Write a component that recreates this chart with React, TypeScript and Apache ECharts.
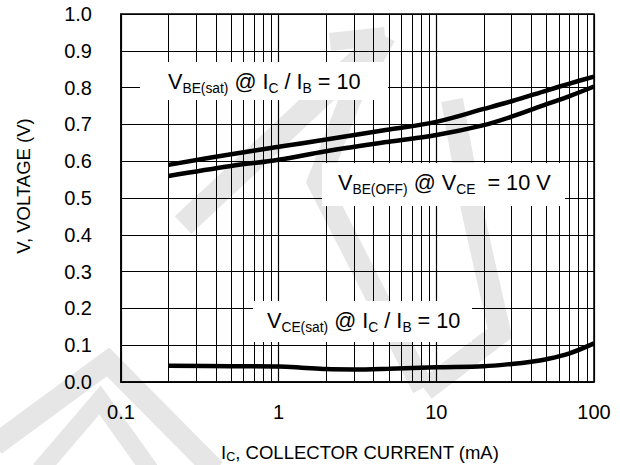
import React, { useEffect, useRef } from 'react';
import * as echarts from 'echarts';

// I_C (mA) sample points and voltages (V)
const xBE = [0.2, 0.5, 1, 2, 5, 10, 20, 30, 50, 70, 100];
const vbeSat = [0.59, 0.619, 0.639, 0.659, 0.686, 0.707, 0.742, 0.763, 0.792, 0.811, 0.83];
const vbeOff = [0.56, 0.587, 0.604, 0.627, 0.653, 0.671, 0.698, 0.721, 0.755, 0.777, 0.803];
const xCE = [0.2, 0.5, 1, 1.4, 2, 3, 5, 10, 20, 30, 40, 50, 70, 100];
const vceSat = [0.044, 0.043, 0.042, 0.039, 0.035, 0.034, 0.036, 0.04, 0.043, 0.049, 0.055, 0.062, 0.078, 0.105];

// vertical grid lines of the log axis (between decades)
const minorGridX = [0.2, 0.3, 0.4, 0.5, 0.6, 0.7, 0.8, 0.9, 2, 3, 4, 5, 6, 7, 8, 9, 20, 30, 40, 50, 60, 70, 80, 90];

const FONT = '"Liberation Sans", Arial, Helvetica, sans-serif';

const pairs = (xs: number[], ys: number[]) => xs.map((x, i) => [x, ys[i]]);

const richStyles = {
  m: { fontSize: 21.7, lineHeight: 28, fontFamily: FONT, fill: '#000' },
  s: { fontSize: 13.8, lineHeight: 14, verticalAlign: 'bottom', fontFamily: FONT, fill: '#000' },
};

const WM = '#e6e6e6';

export default function App() {
  const ref = useRef<HTMLDivElement>(null);
  useEffect(() => {
    document.body.style.margin = '0';
    const chart = echarts.init(ref.current!, null, { renderer: 'svg' });
    const wm = (points: number[][], w: number) => ({
      type: 'polyline',
      z: -10,
      silent: true,
      shape: { points },
      style: { stroke: WM, lineWidth: w, fill: null, lineJoin: 'miter' },
    });
    const box = (x: number, y: number, w: number, h: number) => ({
      type: 'rect',
      z: 50,
      silent: true,
      shape: { x, y, width: w, height: h },
      style: { fill: '#fff' },
    });
    const label = (x: number, y: number, text: string) => ({
      type: 'text',
      z: 51,
      silent: true,
      x,
      y,
      style: {
        text,
        rich: richStyles,
        align: 'left',
        verticalAlign: 'middle',
        fontFamily: FONT,
      },
    });
    const lineSeries = (name: string, data: number[][]) => ({
      name,
      type: 'line',
      data,
      smooth: 0.35,
      showSymbol: false,
      symbol: 'none',
      z: 5,
      lineStyle: { color: '#000', width: 4.5 },
    });
    chart.setOption({
      animation: false,
      backgroundColor: '#fff',
      grid: {
        left: 121,
        top: 14,
        width: 473,
        height: 368,
        show: true,
        borderColor: '#000',
        borderWidth: 1.5,
        backgroundColor: 'transparent',
      },
      xAxis: {
        type: 'log',
        logBase: 10,
        min: 0.1,
        max: 100,
        axisLine: { show: true, lineStyle: { color: '#000', width: 1.5 } },
        axisTick: { show: false },
        axisLabel: {
          color: '#000',
          fontSize: 20,
          fontFamily: FONT,
          margin: 20,
          formatter: (v: number) => String(+v.toPrecision(3)),
        },
        splitLine: { show: true, lineStyle: { color: '#000', width: 1.2 } },
      },
      yAxis: {
        type: 'value',
        min: 0,
        max: 1,
        interval: 0.1,
        axisLine: { show: true, lineStyle: { color: '#000', width: 1.5 } },
        axisTick: { show: false },
        axisLabel: {
          color: '#000',
          fontSize: 20,
          fontFamily: FONT,
          margin: 29,
          formatter: (v: number) => v.toFixed(1),
        },
        splitLine: { show: true, lineStyle: { color: '#000', width: 1.2 } },
      },
      series: [
        {
          type: 'line',
          data: [],
          z: 1,
          markLine: {
            silent: true,
            symbol: ['none', 'none'],
            label: { show: false },
            lineStyle: { color: '#000', width: 1, type: 'solid' },
            data: minorGridX.map((v) => ({ xAxis: v })),
          },
        },
        lineSeries('VBE(sat)', pairs(xBE, vbeSat)),
        lineSeries('VBE(OFF)', pairs(xBE, vbeOff)),
        lineSeries('VCE(sat)', pairs(xCE, vceSat)),
      ],
      graphic: [
        // faint watermark
        wm([[183, 225], [383, 38]], 24),
        wm([[330, 42], [385, 36]], 18),
        wm([[385, 36], [350, 100], [318, 182], [423, 388]], 22),
        wm([[452, 100], [470, 200], [485, 267], [500, 333], [425, 390]], 22),
        wm([[-5, 445], [108, 362], [215, 470]], 22),
        wm([[40, 470], [100, 400], [150, 470]], 18),
        // label backgrounds
        box(140, 62, 248, 38),
        box(322, 163, 243, 43),
        box(253, 301, 219, 41),
        // curve labels
        label(168, 81, '{m|V}{s|BE(sat)}{m| @ I}{s|C}{m| / I}{s|B}{m| = 10}'),
        label(338, 182, '{m|V}{s|BE(OFF)}{m| @ V}{s|CE}{m|  = 10 V}'),
        label(267, 320, '{m|V}{s|CE(sat)}{m| @ I}{s|C}{m| / I}{s|B}{m| = 10}'),
        // axis titles
        {
          type: 'text',
          z: 51,
          silent: true,
          x: 360,
          y: 452,
          style: {
            text: '{m|I}{s|C}{m|, COLLECTOR CURRENT (mA)}',
            align: 'center',
            verticalAlign: 'middle',
            rich: {
              m: { fontSize: 18.5, lineHeight: 22, fontFamily: FONT, fill: '#000' },
              s: { fontSize: 12.5, lineHeight: 12, verticalAlign: 'bottom', fontFamily: FONT, fill: '#000' },
            },
          },
        },
        {
          type: 'text',
          z: 51,
          silent: true,
          x: 23,
          y: 186,
          rotation: Math.PI / 2,
          style: {
            text: 'V, VOLTAGE (V)',
            align: 'center',
            verticalAlign: 'middle',
            fontSize: 18.5,
            fontFamily: FONT,
            fill: '#000',
          },
        },
      ],
    });
    return () => chart.dispose();
  }, []);
  return <div ref={ref} style={{ width: 620, height: 465 }} />;
}
